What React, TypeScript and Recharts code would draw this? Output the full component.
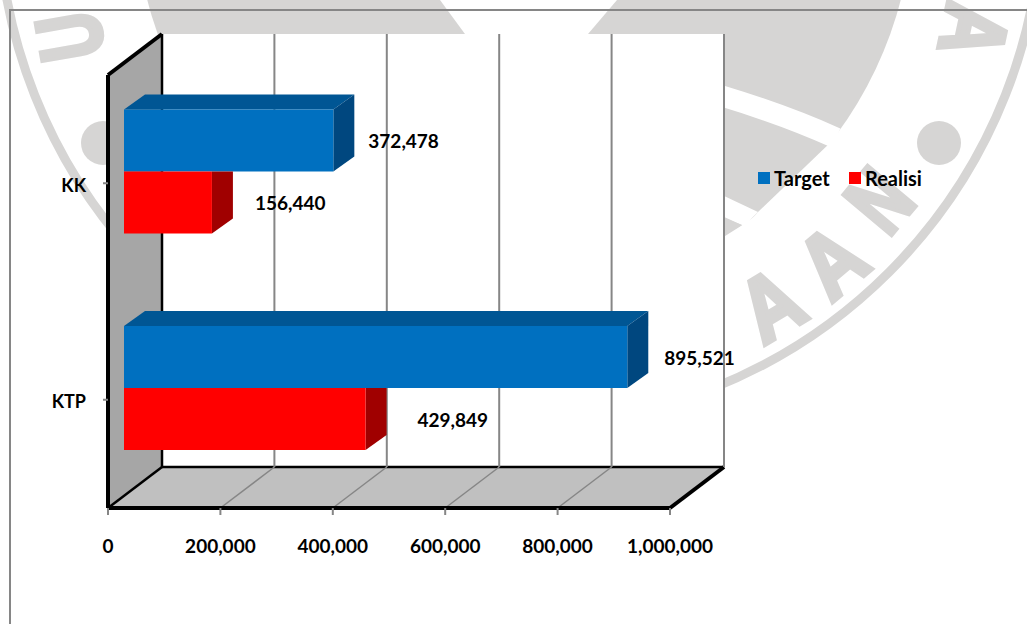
import { Bar, BarChart, CartesianGrid, LabelList, Legend, XAxis, YAxis } from 'recharts'

const categories = ['KK', 'KTP']
const targetValues = [372478, 895521]
const realisiValues = [156440, 429849]
const valueTicks = [0, 200000, 400000, 600000, 800000, 1000000]

const chartData = categories.map((name, i) => ({
  name,
  target: targetValues[i],
  realisi: realisiValues[i],
}))

const WIDTH = 1027
const HEIGHT = 624
const FONT = 'Lato, "Open Sans", sans-serif'

// front plane of the 3D box
const LEFT = 108
const RIGHT = 670
const TOP = 75
const BOTTOM = 508
// how far the back wall sits from the front plane
const WALL_DX = 54
const WALL_DY = 41
// bars float a little behind the front plane and have their own depth
const BAR_SHIFT_X = 16
const BAR_SHIFT_Y = 11.5
const BAR_DX = 21
const BAR_DY = 15

const WATERMARK = '#d6d5d4'
const GRID = '#868686'
const fmt = (v: number) => v.toLocaleString('en-US')

// distance of each value label from the end of its bar, by row
const targetLabelGap = [35, 37]
const realisiLabelGap = [43, 52]

function Box3D({ x, y, width, height, front, top, side, hasTop }: any) {
  const x0 = x + BAR_SHIFT_X
  const y0 = y - BAR_SHIFT_Y
  const x1 = x0 + width
  const y1 = y0 + height
  return (
    <g>
      {hasTop && (
        <polygon
          points={`${x0},${y0} ${x0 + BAR_DX},${y0 - BAR_DY} ${x1 + BAR_DX},${y0 - BAR_DY} ${x1},${y0}`}
          fill={top}
        />
      )}
      <polygon
        points={
          hasTop
            ? `${x1},${y0} ${x1 + BAR_DX},${y0 - BAR_DY} ${x1 + BAR_DX},${y1 - BAR_DY} ${x1},${y1}`
            : `${x1},${y0} ${x1 + BAR_DX},${y0} ${x1 + BAR_DX},${y1 - BAR_DY} ${x1},${y1}`
        }
        fill={side}
      />
      <rect x={x0} y={y0} width={width} height={height} fill={front} />
    </g>
  )
}

function ValueLabel({ x, y, width, height, value, index, gaps }: any) {
  return (
    <text
      x={x + BAR_SHIFT_X + width + gaps[index]}
      y={y - BAR_SHIFT_Y + height / 2}
      dominantBaseline="central"
      fontFamily={FONT}
      fontWeight={700}
      fontSize={19}
      fill="#000"
    >
      {fmt(value)}
    </text>
  )
}

// grid lines run up the back wall and forward across the floor
function GridLine({ x1 }: any) {
  const onLeftEdge = x1 <= LEFT + 1
  const onRightEdge = x1 >= RIGHT - 1
  const wx = x1 + WALL_DX
  const wy = BOTTOM - WALL_DY
  return (
    <g>
      {!onLeftEdge && <line x1={wx} x2={wx} y1={TOP - WALL_DY} y2={wy} stroke={GRID} strokeWidth={2} />}
      {!onLeftEdge && !onRightEdge && <line x1={x1} x2={wx} y1={BOTTOM} y2={wy} stroke={GRID} strokeWidth={1.5} />}
    </g>
  )
}

function LegendRow() {
  const items = [
    { label: 'Target', color: '#0070c0', w: 91 },
    { label: 'Realisi', color: '#ff0000', w: 80 },
  ]
  return (
    <div style={{ display: 'flex', fontFamily: FONT, fontWeight: 700, fontSize: 20, color: '#000' }}>
      {items.map(it => (
        <div key={it.label} style={{ display: 'flex', alignItems: 'center', width: it.w }}>
          <span style={{ width: 12, height: 12, background: it.color, marginRight: 4 }} />
          {it.label}
        </div>
      ))}
    </div>
  )
}

// faint round stamp sitting behind the whole figure
function Stamp() {
  const cx = 520
  const cy = -97
  const letters = [
    { ch: 'U', x: 68, y: 37, rot: -100, sx: 0.72 },
    { ch: 'A', x: 976, y: 31, rot: 102, sx: 0.8 },
    { ch: 'N', x: 878, y: 199, rot: -50, sx: 0.72 },
    { ch: 'A', x: 831, y: 260, rot: -40, sx: 0.85 },
    { ch: 'A', x: 770, y: 303, rot: -31, sx: 0.85 },
  ]
  return (
    <g>
      <circle cx={cx} cy={cy} r={522} fill="none" stroke={WATERMARK} strokeWidth={9} />
      <circle cx={524} cy={cy} r={389} fill={WATERMARK} />
      <polygon points="440,0 465,34 588,34 617,0" fill="#fff" />
      <path d="M 722 96 Q 785 115 836 138" fill="none" stroke="#fff" strokeWidth={21} />
      <polygon points="758,212 832,141 900,240 760,300 700,280" fill="#fff" />
      <polygon points="722,195 758,212 744,226 722,216" fill="#fff" />
      <polygon points="722,217 742,225 722,236" fill={WATERMARK} />
      <circle cx={103} cy={143} r={22} fill={WATERMARK} />
      <circle cx={939} cy={143} r={22} fill={WATERMARK} />
      {letters.map((l, i) => (
        <text
          key={i}
          transform={`translate(${l.x} ${l.y}) rotate(${l.rot}) scale(${l.sx} 1)`}
          y={33}
          textAnchor="middle"
          fontFamily="Liberation Sans"
          fontWeight={700}
          fontSize={90}
          fill={WATERMARK}
          stroke={WATERMARK}
          strokeWidth={5}
        >
          {l.ch}
        </text>
      ))}
    </g>
  )
}

// page frame, stamp and the box walls; the chart is layered on top of this
function Backdrop() {
  const bx = LEFT + WALL_DX
  const by = BOTTOM - WALL_DY
  const tx = RIGHT + WALL_DX
  const ty = TOP - WALL_DY
  return (
    <svg width={WIDTH} height={HEIGHT} style={{ position: 'absolute', left: 0, top: 0 }}>
      <Stamp />
      <polyline points={`10,${HEIGHT} 10,10 ${WIDTH},10`} fill="none" stroke={GRID} strokeWidth={2} />
      <rect x={bx} y={ty} width={tx - bx} height={by - ty} fill="#fff" />
      <polygon points={`${LEFT},${TOP} ${bx},${ty} ${bx},${by} ${LEFT},${BOTTOM}`} fill="#a6a6a6" />
      <polygon points={`${LEFT},${BOTTOM} ${bx},${by} ${tx},${by} ${RIGHT},${BOTTOM}`} fill="#c0c0c0" />
      <line x1={bx} x2={bx} y1={ty} y2={by} stroke="#000" strokeWidth={2.5} />
      <line x1={bx} x2={tx} y1={by} y2={by} stroke="#000" strokeWidth={2.5} />
      <line x1={LEFT} x2={bx} y1={BOTTOM} y2={by} stroke="#000" strokeWidth={2.5} />
      <line x1={LEFT} x2={bx} y1={TOP} y2={ty} stroke="#000" strokeWidth={4} />
      <line x1={RIGHT} x2={tx} y1={BOTTOM} y2={by} stroke="#000" strokeWidth={4} />
    </svg>
  )
}

export default function App() {
  return (
    <div style={{ position: 'absolute', left: 0, top: 0, width: WIDTH, height: HEIGHT, overflow: 'hidden', background: '#fff' }}>
      <Backdrop />
      <div style={{ position: 'absolute', left: 0, top: 0 }}>
        <BarChart
          width={WIDTH}
          height={HEIGHT}
          data={chartData}
          layout="vertical"
          barSize={62}
          barGap={0}
          margin={{ left: 8, top: TOP, right: WIDTH - RIGHT, bottom: 0 }}
        >
          <CartesianGrid horizontal={false} vertical={(props: any) => <GridLine key={props.key} {...props} />} />
          <XAxis
            type="number"
            domain={[0, 1000000]}
            ticks={valueTicks}
            interval={0}
            height={HEIGHT - BOTTOM}
            tickFormatter={fmt}
            axisLine={{ stroke: '#000', strokeWidth: 4 }}
            tickLine={{ stroke: GRID, strokeWidth: 2 }}
            tickSize={7}
            tickMargin={25}
            tick={{ fill: '#000', fontFamily: FONT, fontWeight: 700, fontSize: 19 }}
          />
          <YAxis
            type="category"
            dataKey="name"
            width={100}
            axisLine={{ stroke: '#000', strokeWidth: 4 }}
            tickLine={{ stroke: GRID, strokeWidth: 2 }}
            tickSize={5}
            tickMargin={17}
            tick={{ fill: '#000', fontFamily: FONT, fontWeight: 700, fontSize: 18, dy: 2 }}
          />
          <Bar
            dataKey="target"
            name="Target"
            isAnimationActive={false}
            fill="#0070c0"
            shape={(p: any) => <Box3D {...p} front="#0070c0" top="#005694" side="#00477f" hasTop />}
          >
            <LabelList dataKey="target" content={(p: any) => <ValueLabel {...p} gaps={targetLabelGap} />} />
          </Bar>
          <Bar
            dataKey="realisi"
            name="Realisi"
            isAnimationActive={false}
            fill="#ff0000"
            shape={(p: any) => <Box3D {...p} front="#ff0000" top="#a00000" side="#a00000" />}
          >
            <LabelList dataKey="realisi" content={(p: any) => <ValueLabel {...p} gaps={realisiLabelGap} />} />
          </Bar>
          <Legend
            layout="horizontal"
            wrapperStyle={{ position: 'absolute', left: 758, top: 166, width: 180, height: 0, bottom: 'auto' }}
            content={() => <LegendRow />}
          />
        </BarChart>
      </div>
    </div>
  )
}
